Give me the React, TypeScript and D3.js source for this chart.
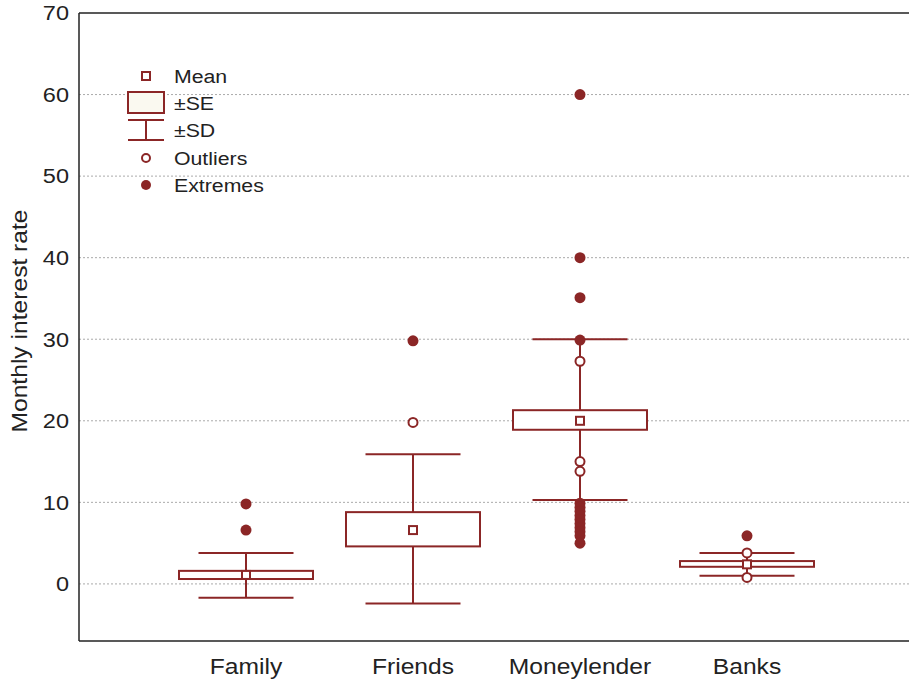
import React from "react";
import * as d3 from "d3";

const categories = ["Family", "Friends", "Moneylender", "Banks"];
const means = [1.1, 6.6, 20.0, 2.4];
const seLow = [0.6, 4.6, 18.9, 2.1];
const seHigh = [1.6, 8.8, 21.3, 2.8];
const sdLow = [-1.7, -2.4, 10.3, 1.0];
const sdHigh = [3.8, 15.9, 30.0, 3.8];
const outliers: number[][] = [[], [19.8], [27.3, 15.0, 13.8], [3.8, 0.8]];
const extremes: number[][] = [
  [9.8, 6.6],
  [29.8],
  [60, 40, 35.1, 29.9, 9.9, 9.4, 8.9, 8.4, 7.9, 7.4, 6.9, 6.4, 5.9, 5.0],
  [5.9],
];
const yTicks = [0, 10, 20, 30, 40, 50, 60, 70];

const W = 911;
const H = 682;
const left = 79;
const right = 909;
const top = 13;
const bottom = 641;
const color = "#8b2626";
const font = "'Liberation Sans', Arial, sans-serif";
const SX = 1.12;

function T({ x, y, size, anchor = "start", rotate = 0, children }: any) {
  return (
    <text
      transform={`translate(${x},${y}) rotate(${rotate}) scale(${SX},1)`}
      textAnchor={anchor}
      dy="0.35em"
      fontFamily={font}
      fontSize={size}
      fill="#222"
    >
      {children}
    </text>
  );
}

export default function App() {
  const y = d3.scaleLinear().domain([-7, 70]).range([bottom, top]);
  const x = d3.scaleLinear().domain([0, 5]).range([left, left + 835]);
  const boxW = 134;
  const capW = 95;

  return (
    <svg width={W} height={H} style={{ position: "absolute", left: 0, top: 0, background: "#fff" }}>
      {yTicks.filter((t) => t < 70).map((t) => (
        <line key={"g" + t} x1={left} x2={right} y1={y(t)} y2={y(t)} stroke="#aaa" strokeWidth={1} strokeDasharray="2,2" />
      ))}
      {yTicks.map((t) => (
        <T key={"t" + t} x={69} y={y(t)} size={21} anchor="end">
          {t}
        </T>
      ))}
      <T x={19} y={321} size={22} anchor="middle" rotate={-90}>
        Monthly interest rate
      </T>
      {categories.map((c, i) => {
        const cx = x(i + 1);
        return (
          <g key={c}>
            <line x1={cx} x2={cx} y1={y(sdLow[i])} y2={y(sdHigh[i])} stroke={color} strokeWidth={2} />
            <line x1={cx - capW / 2} x2={cx + capW / 2} y1={y(sdLow[i])} y2={y(sdLow[i])} stroke={color} strokeWidth={2} />
            <line x1={cx - capW / 2} x2={cx + capW / 2} y1={y(sdHigh[i])} y2={y(sdHigh[i])} stroke={color} strokeWidth={2} />
            <rect x={cx - boxW / 2} y={y(seHigh[i])} width={boxW} height={y(seLow[i]) - y(seHigh[i])} fill="#fff" stroke={color} strokeWidth={2} />
            <rect x={cx - 4} y={y(means[i]) - 4} width={8} height={8} fill="#fff" stroke={color} strokeWidth={2} />
            {outliers[i].map((v, j) => (
              <circle key={"o" + j} cx={cx} cy={y(v)} r={4.5} fill="#fff" stroke={color} strokeWidth={2} />
            ))}
            {extremes[i].map((v, j) => (
              <circle key={"e" + j} cx={cx} cy={y(v)} r={5.5} fill={color} />
            ))}
            <T x={cx} y={666} size={22} anchor="middle">
              {c}
            </T>
          </g>
        );
      })}
      <line x1={left} x2={left} y1={top} y2={bottom} stroke="#222" strokeWidth={1.5} />
      <line x1={left} x2={right} y1={top} y2={top} stroke="#222" strokeWidth={1.5} />
      <line x1={left} x2={right} y1={bottom} y2={bottom} stroke="#222" strokeWidth={1.5} />
      <g>
        <rect x={142} y={72} width={8} height={8} fill="#fff" stroke={color} strokeWidth={2} />
        <T x={174} y={76} size={19}>Mean</T>
        <rect x={128} y={92} width={36} height={21} fill="#faf9f0" stroke={color} strokeWidth={2} />
        <T x={174} y={103} size={19}>±SE</T>
        <line x1={128} x2={164} y1={120} y2={120} stroke={color} strokeWidth={2} />
        <line x1={128} x2={164} y1={140} y2={140} stroke={color} strokeWidth={2} />
        <line x1={146} x2={146} y1={120} y2={140} stroke={color} strokeWidth={2} />
        <T x={174} y={130} size={19}>±SD</T>
        <circle cx={146} cy={158} r={4} fill="#fff" stroke={color} strokeWidth={2} />
        <T x={174} y={158} size={19}>Outliers</T>
        <circle cx={146} cy={185} r={5} fill={color} />
        <T x={174} y={185} size={19}>Extremes</T>
      </g>
    </svg>
  );
}
